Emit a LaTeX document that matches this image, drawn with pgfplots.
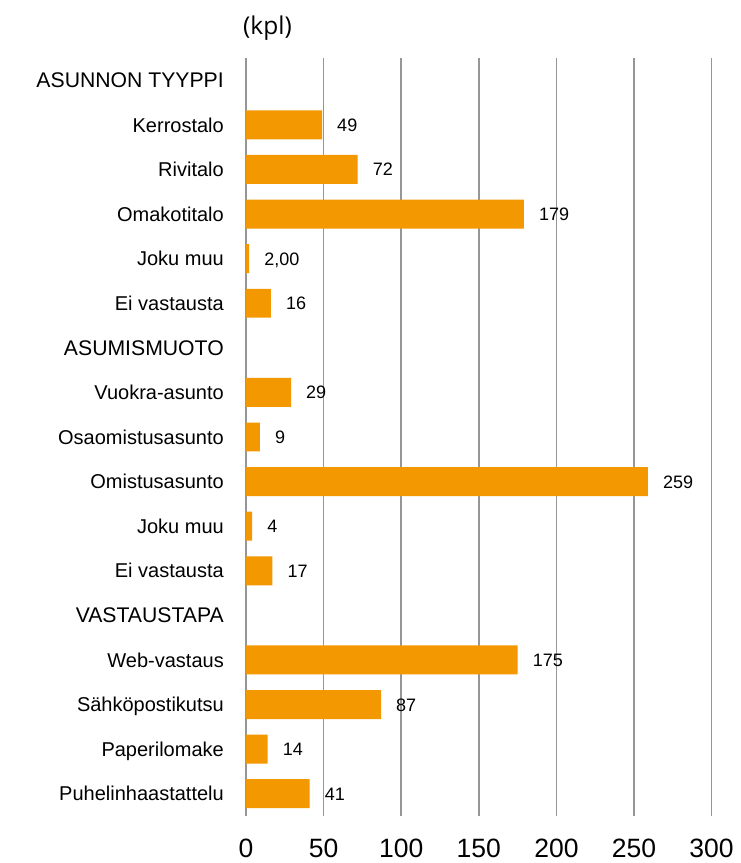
\documentclass[border=0pt]{standalone}
\usepackage{fontspec}
\setmainfont{Liberation Sans}
\newfontfamily\kplfont{Open Sans}
\usepackage{pgfplots}
\usepackage{pgfplotstable}
\pgfplotsset{compat=1.18}
\definecolor{barorange}{RGB}{243,152,0}
\definecolor{gridgray}{RGB}{150,150,150}

\newcommand{\hdr}[1]{{\fontsize{21.2}{24}\selectfont #1}}

\pgfplotstableread{
y x lab
1 49 49
2 72 72
3 179 179
4 2 {2,00}
5 16 16
7 29 29
8 9 9
9 259 259
10 4 4
11 17 17
13 175 175
14 87 87
15 14 14
16 41 41
}\datatable

\begin{document}
\begin{tikzpicture}
\path[use as bounding box] (-246pt,-47pt) rectangle (494pt,816pt);
\begin{axis}[
  scale only axis,
  width=465.6pt, height=758pt,
  xbar,
  bar width=0.65,
  xmin=0, xmax=300,
  ymin=-0.5, ymax=16.5,
  enlargelimits=false,
  y dir=reverse,
  xtick={0,50,100,150,200,250,300},
  ytick={0,...,16},
  yticklabels={\hdr{ASUNNON TYYPPI},Kerrostalo,Rivitalo,Omakotitalo,Joku muu,Ei vastausta,\hdr{ASUMISMUOTO},Vuokra-asunto,Osaomistusasunto,Omistusasunto,Joku muu,Ei vastausta,\hdr{VASTAUSTAPA},Web-vastaus,Sähköpostikutsu,Paperilomake,Puhelinhaastattelu},
  axis line style={draw=none},
  tick style={draw=none},
  major tick length=0pt,
  xmajorgrids,
  grid style={gridgray, line width=1.6pt},
  /pgf/number format/assume math mode=true,
  yticklabel style={font=\fontsize{20}{24}\selectfont, inner sep=0pt, anchor=base east, xshift=-22pt, yshift=-7.2pt},
  xticklabel style={font=\fontsize{26.5}{30}\selectfont, inner sep=0pt, anchor=base, yshift=-41pt},
  nodes near coords,
  point meta=explicit symbolic,
  nodes near coords style={font=\fontsize{18}{21}\selectfont, inner sep=0pt, anchor=base west, xshift=15pt, yshift=-6.5pt, text=black},
]
\addplot[fill=barorange, draw=none] table[x=x, y=y, meta=lab] {\datatable};
\end{axis}
\node[anchor=west, inner sep=0pt, font=\kplfont\fontsize{24.5}{28}\selectfont] at (-3pt,788pt) {(kpl)};
\end{tikzpicture}
\end{document}
